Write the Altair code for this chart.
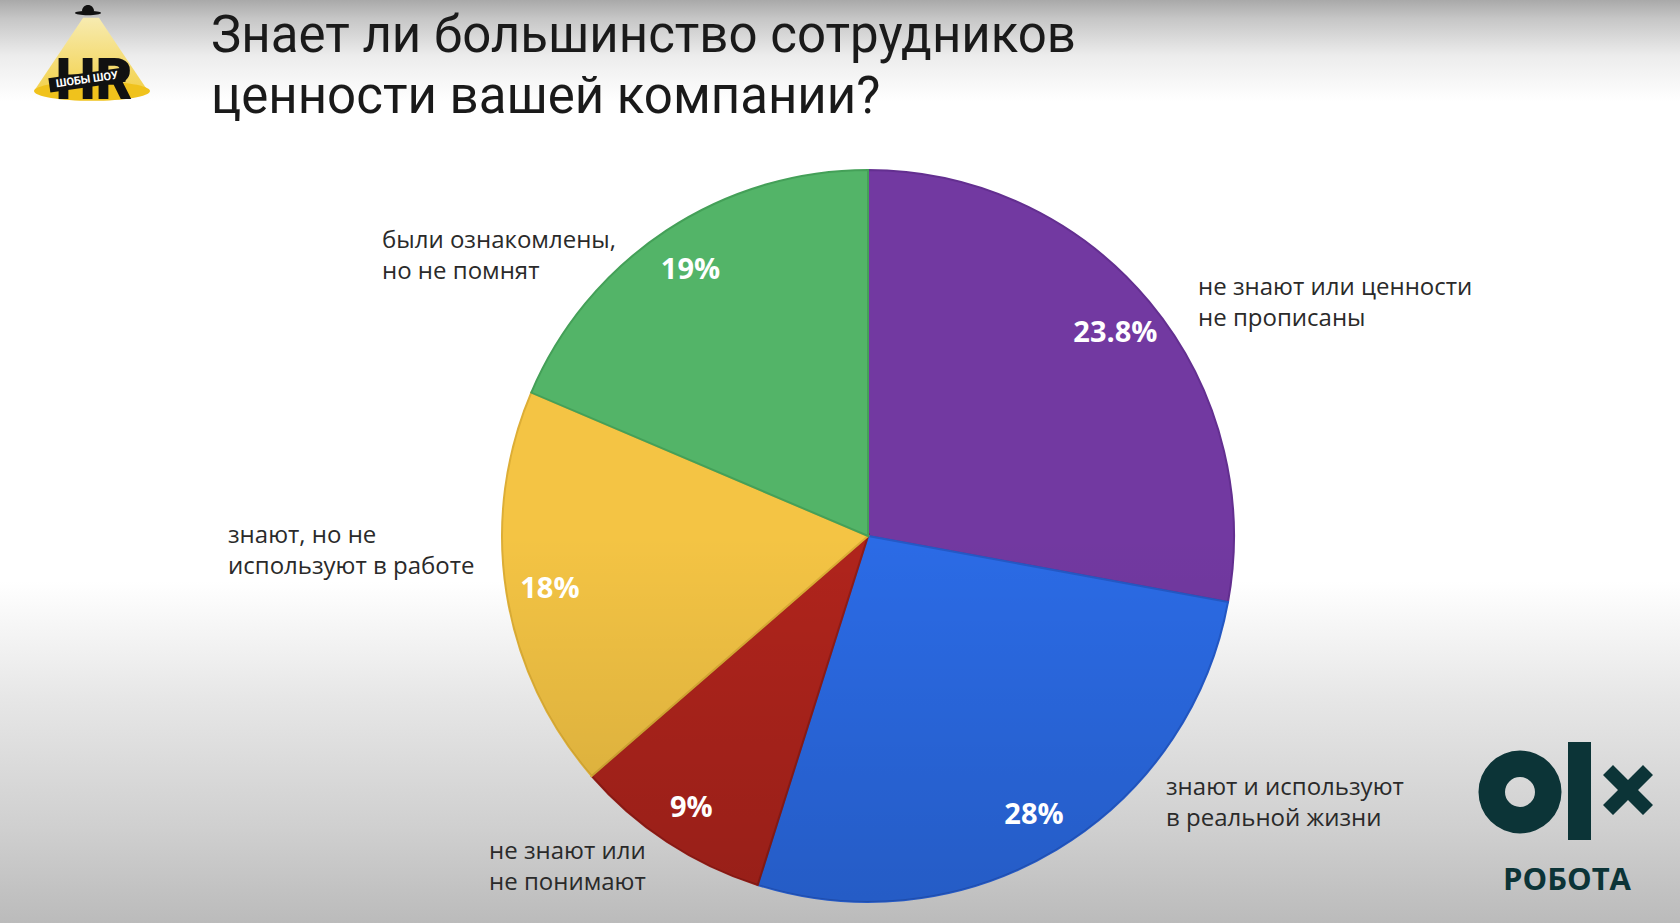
import math
import altair as alt
import pandas as pd

W, H = 1680, 923

# ---- data ----
categories = [
    "не знают или ценности не прописаны",
    "знают и используют в реальной жизни",
    "не знают или не понимают",
    "знают, но не используют в работе",
    "были ознакомлены, но не помнят",
]
shares = [27.9, 27.0, 8.75, 17.8, 18.6]          # slice sizes as drawn (share of the circle, %)
pct_labels = ["23.8%", "28%", "9%", "18%", "19%"]  # printed labels
colors = ["#7239A1", "#2B6BE6", "#B0241C", "#F4C444", "#53B468"]
edge_colors = ["#632F90", "#2459C6", "#921C16", "#DDAE36", "#44A058"]

title_lines = ["Знает ли большинство сотрудников", "ценности вашей компании?"]
outer_lines = [
    ["не знают или ценности", "не прописаны"],
    ["знают и используют", "в реальной жизни"],
    ["не знают или", "не понимают"],
    ["знают, но не", "используют в работе"],
    ["были ознакомлены,", "но не помнят"],
]

# ---- layout ----
CX, CY, R = 868, 536, 366
outer_pos = [(1198, 295), (1166, 795), (489, 859), (228, 543), (382, 248)]

one = pd.DataFrame({"k": [0]})
pie_df = pd.DataFrame({"cat": categories, "share": shares, "pct": pct_labels,
                       "idx": list(range(len(categories)))})

bg_stops = [(0.0, "#A9A9A9"), (0.02, "#C6C6C6"), (0.06, "#ECECEC"), (0.11, "#FFFFFF"),
            (0.63, "#FFFFFF"), (0.76, "#E6E6E6"), (0.9, "#CFCFCF"), (1.0, "#BBBBBB")]
bg = alt.Chart(one).mark_rect(
    fill=alt.LinearGradient(gradient="linear",
                            stops=[alt.GradientStop(offset=o, color=c) for o, c in bg_stops],
                            x1=0, x2=0, y1=0, y2=1)
).encode(x=alt.value(0), x2=alt.value(W), y=alt.value(0), y2=alt.value(H))

theta = alt.Theta("share:Q", stack=True)
order = alt.Order("idx:Q", sort="ascending")

pie = alt.Chart(pie_df).mark_arc(strokeWidth=2).encode(
    theta=theta, order=order,
    color=alt.Color("cat:N", scale=alt.Scale(domain=categories, range=colors), legend=None),
    stroke=alt.Stroke("cat:N", scale=alt.Scale(domain=categories, range=edge_colors), legend=None),
    x=alt.value(CX), y=alt.value(CY), radius=alt.value(R),
)

shade = alt.Chart(one).mark_arc(
    fill=alt.LinearGradient(gradient="linear",
                            stops=[alt.GradientStop(offset=0, color="rgba(0,0,0,0)"),
                                   alt.GradientStop(offset=0.5, color="rgba(0,0,0,0)"),
                                   alt.GradientStop(offset=1, color="rgba(0,0,0,0.14)")],
                            x1=0, x2=0, y1=0, y2=1)
).encode(x=alt.value(CX), y=alt.value(CY), radius=alt.value(R),
         theta=alt.value(0), theta2=alt.value(2 * math.pi))

pct = alt.Chart(pie_df).mark_text(
    font="Open Sans", fontWeight="bold", fontSize=29, color="#FFFFFF",
    align="center", baseline="middle", dy=3
).encode(theta=theta, order=order, text="pct:N",
         x=alt.value(CX), y=alt.value(CY), radius=alt.value(322))

layers = [bg, pie, shade, pct]

for lines, (lx, ly) in zip(outer_lines, outer_pos):
    layers.append(alt.Chart(one).mark_text(
        font="Open Sans", fontSize=24, color="#2A2A2A", align="left",
        baseline="alphabetic", lineHeight=31
    ).encode(x=alt.value(lx), y=alt.value(ly), text=alt.value(lines)))

for i, line in enumerate(title_lines):
    layers.append(alt.Chart(one).mark_text(
        font="Roboto", fontSize=51, color="#1A1A1A", align="left", baseline="alphabetic"
    ).encode(x=alt.value(211), y=alt.value(52 + 61 * i), text=alt.value(line)))

# ---- HR logo ----
beam_path = "M-0.14,-0.64L0.14,-0.64L1,0.64L-1,0.64Z"
ellipse_path = "M-1,0A1,0.17 0 1,0 1,0A1,0.17 0 1,0 -1,0Z"
layers += [
    alt.Chart(one).mark_point(shape=beam_path, filled=True, size=113 ** 2, opacity=1,
                              fill=alt.LinearGradient(gradient="linear", x1=0, x2=0, y1=0, y2=1,
                                  stops=[alt.GradientStop(offset=0, color="#F7EBB0"),
                                         alt.GradientStop(offset=1, color="#F3D24E")]),
                              strokeWidth=0)
    .encode(x=alt.value(91), y=alt.value(54)),
    alt.Chart(one).mark_point(shape=ellipse_path, filled=True, size=116 ** 2, opacity=1,
                              color="#F0C21C", strokeWidth=0)
    .encode(x=alt.value(92), y=alt.value(91)),
    alt.Chart(one).mark_point(shape=ellipse_path, filled=True, size=26 ** 2, opacity=1,
                              color="#111111", strokeWidth=0)
    .encode(x=alt.value(88), y=alt.value(13)),
    alt.Chart(one).mark_point(shape="M-1,0A1,1 0 0,1 1,0Z", filled=True, size=12 ** 2, opacity=1,
                              color="#111111", strokeWidth=0)
    .encode(x=alt.value(88), y=alt.value(11)),
    alt.Chart(one).mark_text(font="Roboto", fontWeight=900, fontSize=57, color="#111111",
                             align="center", baseline="alphabetic")
    .encode(x=alt.value(94), y=alt.value(99), text=alt.value("HR")),
    alt.Chart(one).mark_point(shape="M-1,-0.19L1,-0.19L1,0.19L-1,0.19Z", filled=True, size=76 ** 2,
                              opacity=1, color="#111111", strokeWidth=0, angle=352)
    .encode(x=alt.value(87), y=alt.value(80)),
    alt.Chart(one).mark_text(font="Roboto", fontWeight="bold", fontSize=11, color="#FFFFFF",
                             align="center", baseline="middle", angle=352)
    .encode(x=alt.value(87), y=alt.value(80), text=alt.value("ШОБЫ ШОУ")),
]

# ---- OLX logo ----
OLX = "#0C3437"
a = 0.4
x_path = ("M-1,{ma}L{ma},-1L0,-{a}L{pa},-1L1,{ma}L{a},0L1,{pa}L{pa},1L0,{a}L{ma},1L-1,{pa}L-{a},0Z"
          .format(ma=round(-1 + a, 3), pa=round(1 - a, 3), a=a))
layers += [
    alt.Chart(one).mark_arc(color=OLX).encode(
        x=alt.value(1520), y=alt.value(792), radius=alt.value(41.5), radius2=alt.value(15),
        theta=alt.value(0), theta2=alt.value(2 * math.pi)),
    alt.Chart(one).mark_rect(color=OLX).encode(
        x=alt.value(1568), x2=alt.value(1591), y=alt.value(742), y2=alt.value(840)),
    alt.Chart(one).mark_point(shape=x_path, filled=True, size=50 ** 2, opacity=1, color=OLX,
                              strokeWidth=0)
    .encode(x=alt.value(1628), y=alt.value(790)),
    alt.Chart(one).mark_text(font="Open Sans", fontWeight="bold", fontSize=31, color=OLX,
                             align="center", baseline="alphabetic")
    .encode(x=alt.value(1567), y=alt.value(890), text=alt.value("РОБОТА")),
]

chart = alt.layer(*layers).properties(
    width=W, height=H, autosize=alt.AutoSizeParams(type="none"), padding=0,
    background="#FFFFFF"
).configure_view(stroke=None)

chart.save("out.html", embed_options={"renderer": "svg", "actions": False})
